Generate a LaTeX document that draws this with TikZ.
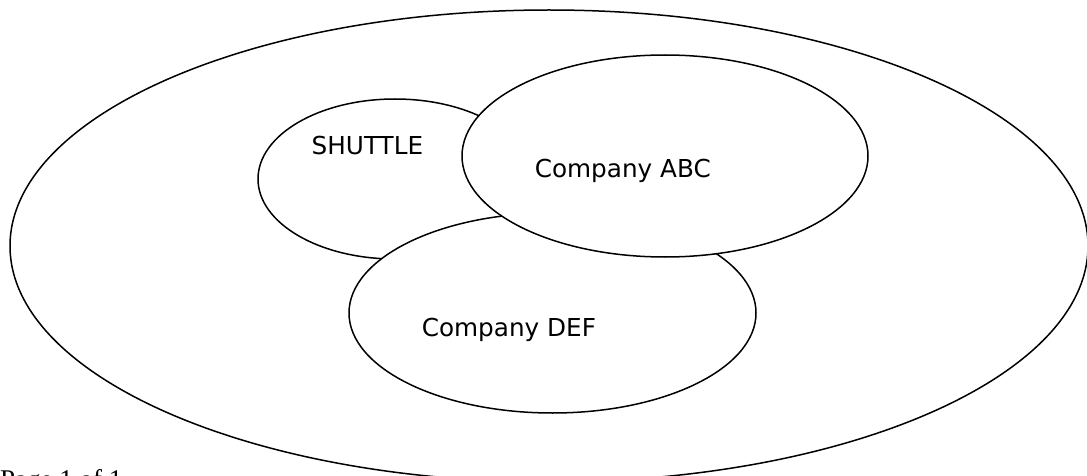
\documentclass[tikz,border=0pt]{standalone}
\usepackage{fontspec}
\setmainfont{Liberation Serif}
\newfontfamily\lblfont{DejaVu Sans}
\usetikzlibrary{shapes.geometric}
\begin{document}
\begin{tikzpicture}[x=1pt,y=-1pt,
  oval/.style={ellipse,draw=black,line width=1.5pt,inner sep=0pt,outer sep=0pt},
  lbl/.style={anchor=base west,inner sep=0pt,font=\lblfont\fontsize{24.7}{28}\selectfont}]
\useasboundingbox (0,0) rectangle (1087,476);
\node[oval,minimum width=1078pt,minimum height=472pt] (world) at (549,246) {};
\node[oval,fill=white,minimum width=274pt,minimum height=160pt] (shuttle) at (395,179) {};
\node[oval,fill=white,minimum width=407pt,minimum height=200pt] (def) at (552.5,313) {};
\node[oval,fill=white,minimum width=406pt,minimum height=202pt] (abc) at (665,156) {};
\node[lbl] (tshuttle) at (311.5,155) {SHUTTLE};
\node[lbl] (tabc) at (534.6,177) {Company ABC};
\node[lbl] (tdef) at (421.6,336) {Company DEF};
\node[anchor=base west,inner sep=0pt,font=\fontsize{27}{30}\selectfont] (page) at (0,488) {Page 1 of 1};
\end{tikzpicture}
\end{document}
